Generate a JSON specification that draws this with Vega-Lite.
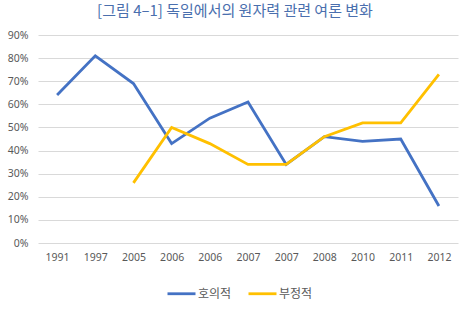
{
  "$schema": "https://vega.github.io/schema/vega-lite/v6.json",
  "autosize": {"type": "none"},
  "width": 420,
  "height": 208,
  "padding": {"left": 38, "top": 35, "right": 17, "bottom": 66},
  "background": "white",
  "title": {
    "text": "[그림 4–1] 독일에서의 원자력 관련 여론 변화",
    "font": "Noto Sans CJK KR",
    "fontSize": 15,
    "fontWeight": "normal",
    "color": "#4a6fae",
    "anchor": "middle",
    "dx": -13,
    "offset": 11
  },
  "data": {
    "values": [
      {"i": 0, "year": "1991", "series": "호의적", "value": 64},
      {"i": 1, "year": "1997", "series": "호의적", "value": 81},
      {"i": 2, "year": "2005", "series": "호의적", "value": 69},
      {"i": 3, "year": "2006", "series": "호의적", "value": 43},
      {"i": 4, "year": "2006", "series": "호의적", "value": 54},
      {"i": 5, "year": "2007", "series": "호의적", "value": 61},
      {"i": 6, "year": "2007", "series": "호의적", "value": 34},
      {"i": 7, "year": "2008", "series": "호의적", "value": 46},
      {"i": 8, "year": "2010", "series": "호의적", "value": 44},
      {"i": 9, "year": "2011", "series": "호의적", "value": 45},
      {"i": 10, "year": "2012", "series": "호의적", "value": 16},
      {"i": 2, "year": "2005", "series": "부정적", "value": 26},
      {"i": 3, "year": "2006", "series": "부정적", "value": 50},
      {"i": 4, "year": "2006", "series": "부정적", "value": 43},
      {"i": 5, "year": "2007", "series": "부정적", "value": 34},
      {"i": 6, "year": "2007", "series": "부정적", "value": 34},
      {"i": 7, "year": "2008", "series": "부정적", "value": 46},
      {"i": 8, "year": "2010", "series": "부정적", "value": 52},
      {"i": 9, "year": "2011", "series": "부정적", "value": 52},
      {"i": 10, "year": "2012", "series": "부정적", "value": 73}
    ]
  },
  "mark": {"type": "line", "strokeWidth": 2.8, "strokeJoin": "miter", "strokeCap": "butt"},
  "encoding": {
    "x": {
      "field": "i",
      "type": "ordinal",
      "scale": {"type": "point", "padding": 0.5},
      "axis": {
        "title": null,
        "labelAngle": 0,
        "labelExpr": "['1991','1997','2005','2006','2006','2007','2007','2008','2010','2011','2012'][datum.value]",
        "ticks": false,
        "domain": false,
        "grid": false,
        "labelPadding": 9
      }
    },
    "y": {
      "field": "value",
      "type": "quantitative",
      "scale": {"domain": [0, 90], "nice": false},
      "axis": {
        "title": null,
        "values": [0, 10, 20, 30, 40, 50, 60, 70, 80, 90],
        "labelExpr": "datum.value + '%'",
        "ticks": false,
        "domain": false,
        "labelPadding": 10,
        "gridColor": "#d9d9d9",
        "gridWidth": 1
      }
    },
    "color": {
      "field": "series",
      "type": "nominal",
      "scale": {"domain": ["호의적", "부정적"], "range": ["#4472c4", "#ffc000"]},
      "legend": {
        "title": null,
        "orient": "none",
        "direction": "horizontal",
        "legendX": 128,
        "legendY": 243,
        "symbolType": "stroke",
        "symbolSize": 784,
        "symbolStrokeWidth": 2.8,
        "columnPadding": 10,
        "labelOffset": 1
      }
    },
    "order": {"field": "i", "type": "quantitative"}
  },
  "config": {
    "view": {"stroke": null},
    "font": "Noto Sans CJK KR",
    "axis": {"labelFont": "Noto Sans", "labelFontSize": 10.5, "labelColor": "#595959"},
    "legend": {"labelFont": "Noto Sans CJK KR", "labelFontSize": 12, "labelColor": "#595959"}
  }
}
